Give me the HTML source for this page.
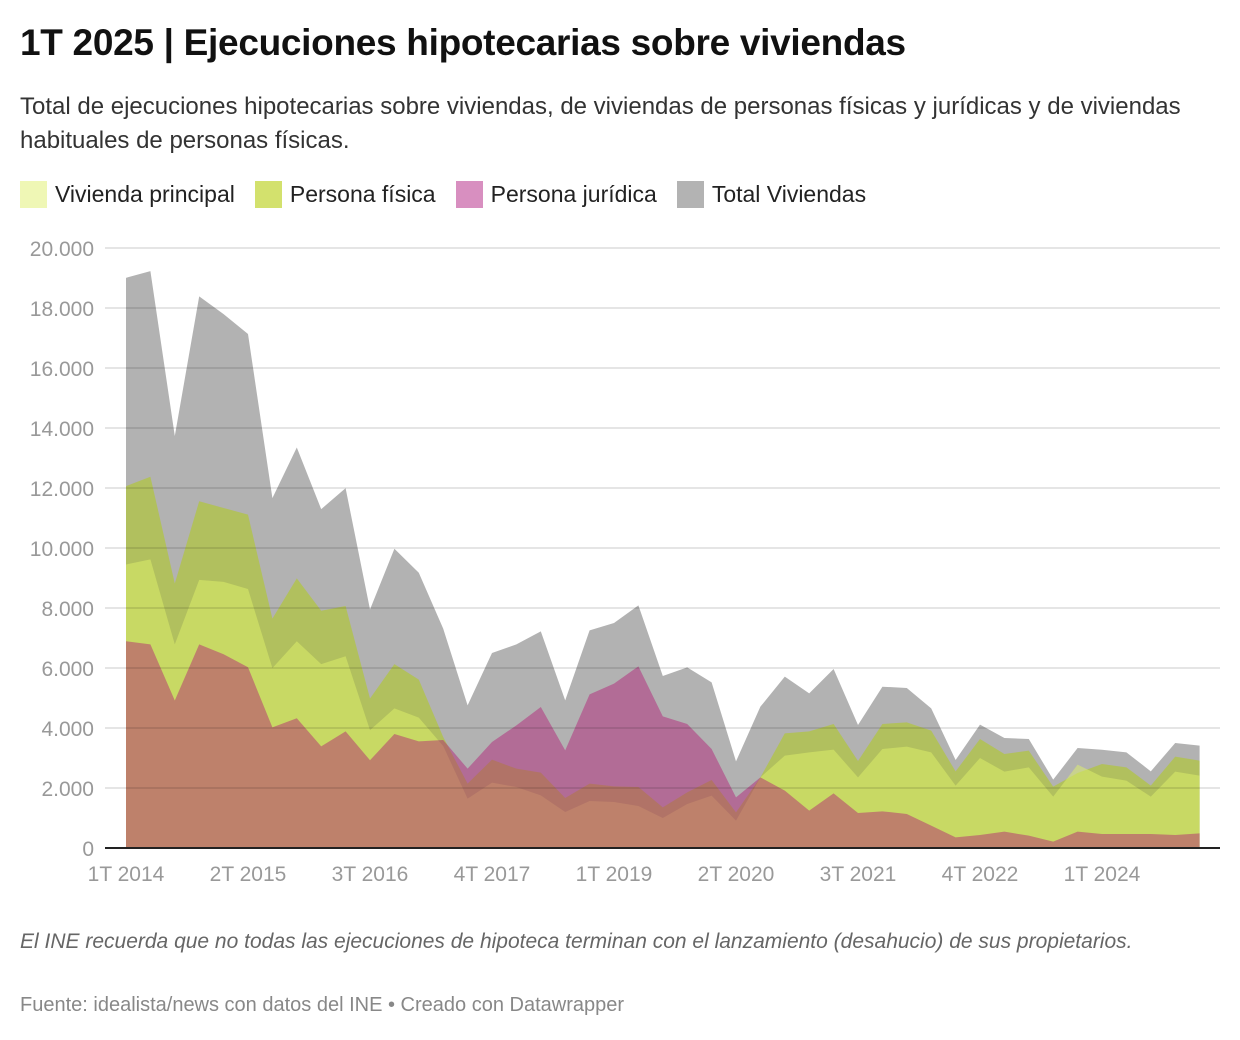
<!DOCTYPE html>
<html><head><meta charset="utf-8">
<style>
body{margin:0;width:1240px;height:1040px;background:#fff;font-family:"Liberation Sans",sans-serif;overflow:hidden;position:relative}
.t{position:absolute;left:20px;top:22px;font-size:37px;font-weight:bold;color:#111;letter-spacing:-0.3px}
.s{position:absolute;left:20px;top:90px;font-size:24px;line-height:34px;color:#333;width:1210px}
.lg{position:absolute;top:181px;left:20px;display:flex;font-size:23px;color:#222}
.li{display:flex;align-items:center;margin-right:20px}
.sw{width:27px;height:27px;margin-right:8px}
.n{position:absolute;left:20px;top:928px;font-size:21px;line-height:28px;color:#666;font-style:italic;width:1200px}
.src{position:absolute;left:20px;top:994px;font-size:20px;color:#888}
</style></head><body>
<div class="t">1T 2025 | Ejecuciones hipotecarias sobre viviendas</div>
<div class="s">Total de ejecuciones hipotecarias sobre viviendas, de viviendas de personas físicas y jurídicas y de viviendas habituales de personas físicas.</div>
<div class="lg">
<div class="li"><div class="sw" style="background:#eff7b5"></div>Vivienda principal</div>
<div class="li"><div class="sw" style="background:#d3e16d"></div>Persona física</div>
<div class="li"><div class="sw" style="background:#d88fc0"></div>Persona jurídica</div>
<div class="li"><div class="sw" style="background:#b3b3b3"></div>Total Viviendas</div>
</div>
<svg id="chart" width="1240" height="1040" style="position:absolute;left:0;top:0"></svg>
<div class="n">El INE recuerda que no todas las ejecuciones de hipoteca terminan con el lanzamiento (desahucio) de sus propietarios.</div>
<div class="src">Fuente: idealista/news con datos del INE • Creado con Datawrapper</div>
<script>
const total=[19006,19230,13734,18386,17794,17134,11664,13352,11295,11994,7948,9977,9177,7311,4755,6500,6788,7222,4922,7255,7500,8089,5733,6022,5522,2889,4711,5711,5155,5966,4100,5377,5333,4655,2933,4111,3666,3633,2278,3333,3277,3189,2555,3500,3411];
const fisica=[12060,12376,8817,11559,11335,11111,7644,8989,7908,8066,4982,6129,5611,3700,2144,2944,2644,2511,1667,2144,2056,2033,1355,1855,2266,1189,2355,3822,3889,4133,2900,4133,4189,3911,2555,3633,3133,3244,2044,2500,2800,2689,2078,3044,2911];
const principal=[9450,9621,6788,8936,8870,8633,5997,6893,6129,6393,3928,4653,4344,3400,1644,2178,2033,1756,1200,1567,1533,1400,1000,1466,1744,911,2355,3078,3189,3278,2355,3300,3378,3189,2078,3000,2544,2689,1711,2780,2378,2244,1711,2544,2411];
const juridica=[6893,6788,4916,6788,6458,6023,4020,4323,3387,3888,2926,3800,3556,3600,2644,3533,4089,4700,3256,5122,5478,6055,4389,4133,3300,1689,2355,1911,1244,1822,1167,1222,1133,744,355,433,544,411,211,544,466,466,466,433,489];
const yTicks=[0,2000,4000,6000,8000,10000,12000,14000,16000,18000,20000];
const xTickIdx=[0,5,10,15,20,25,30,35,40];
const xTickLabels=["1T 2014","2T 2015","3T 2016","4T 2017","1T 2019","2T 2020","3T 2021","4T 2022","1T 2024"];
const NS="http://www.w3.org/2000/svg";
const svg=document.getElementById('chart');
const X=i=>126+i*24.4;
const Y=v=>848-v*0.03;
function mk(t,a){const e=document.createElementNS(NS,t);for(const k in a)e.setAttribute(k,a[k]);svg.appendChild(e);return e;}
function area(arr,fill,op,name){
  let d='M'+X(0)+','+Y(0);
  arr.forEach((v,i)=>{d+='L'+X(i)+','+Y(v);});
  d+='L'+X(arr.length-1)+','+Y(0)+'Z';
  const p=mk('path',{d:d,fill:fill,'fill-opacity':op});
  
  
}
area(total,'#b2b2b2',1,'area-total-viviendas');
area(fisica,'#b0c926',0.6,'area-persona-fisica');
area(principal,'#dff26a',0.5,'area-vivienda-principal');
area(juridica,'#b21674',0.45,'area-persona-juridica');
yTicks.forEach(v=>{
  if(v>0){const g=mk('line',{x1:105,x2:1220,y1:Y(v),y2:Y(v),stroke:'#000','stroke-opacity':0.1,'stroke-width':2});
  
  }
  const t=mk('text',{x:94,y:Y(v)+8,'text-anchor':'end','font-size':21,fill:'#999','font-family':'Liberation Sans, sans-serif'});
  t.textContent=v.toLocaleString('de-DE');
  
  
});
const base=mk('line',{x1:105,x2:1220,y1:848,y2:848,stroke:'#222','stroke-width':2});


xTickIdx.forEach((ix,k)=>{
  const t=mk('text',{x:X(ix),y:881,'text-anchor':'middle','font-size':21,fill:'#999','font-family':'Liberation Sans, sans-serif'});
  t.textContent=xTickLabels[k];
  
  
});
</script>
</body></html>
